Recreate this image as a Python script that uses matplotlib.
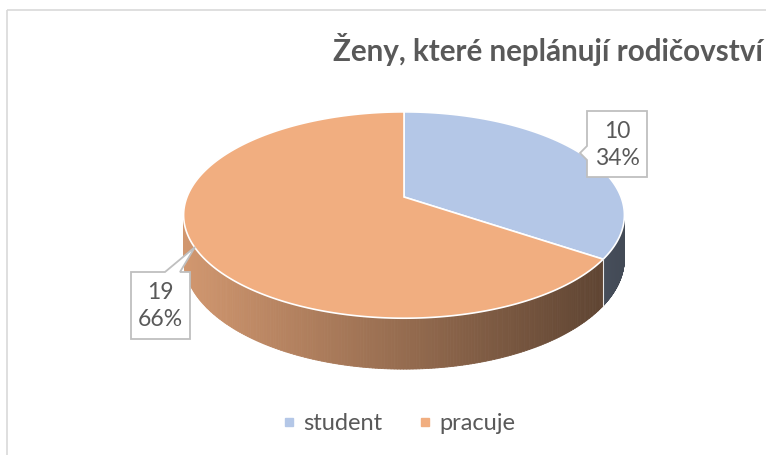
import numpy as np
import matplotlib.pyplot as plt
from matplotlib.patches import Polygon, Rectangle
from matplotlib.collections import PolyCollection
from matplotlib.lines import Line2D
from matplotlib.colors import to_rgb

# data
labels = ['student', 'pracuje']
values = [10, 19]
colors = ['#B4C7E7', '#F1AE80']
title = 'Ženy, které neplánují rodičovství'

fam = ['Lato', 'DejaVu Sans']
txt = '#595959'

fig = plt.figure(figsize=(7.66, 4.55), dpi=100)
ax = fig.add_axes([0, 0, 1, 1])
ax.set_xlim(0, 766)
ax.set_ylim(455, 0)
ax.axis('off')

# ramecek grafu
ax.add_patch(Rectangle((7, 10), 780, 460, fill=False, edgecolor='#D9D9D9', lw=1.2))

# geometrie kolace (pixely), jednoducha perspektiva
cx, cy0, a, b = 404, 197, 217, 100
k = 0.175          # sila perspektivy
d0 = 42            # vyska valce


def pt(th, dy=0.0):
    r = np.radians(th)
    s = 1.0 / (1.0 + k * np.sin(r))
    return cx + a * np.cos(r) * s, cy0 - b * np.sin(r) * s + dy * s


total = sum(values)
angles = [90]
for v in values:
    angles.append(angles[-1] - 360 * v / total)

# viditelna cast boku (mezi obrysovymi body)
edge = np.degrees(np.arcsin(k))
vis_lo, vis_hi = -180 + edge, -edge
xmin, xmax = pt(-180 + edge)[0], pt(-edge)[0]

for i, col in enumerate(colors):
    t1, t2 = angles[i + 1], angles[i]
    lo, hi = max(t1, vis_lo), min(t2, vis_hi)
    if lo >= hi:
        continue
    th = np.linspace(lo, hi, 200)
    base = np.array(to_rgb(col))
    quads, fcs = [], []
    for j in range(len(th) - 1):
        x1, y1 = pt(th[j])
        x2, y2 = pt(th[j + 1])
        _, yb1 = pt(th[j], d0)
        _, yb2 = pt(th[j + 1], d0)
        quads.append([(x1, y1), (x2, y2), (x2, yb2), (x1, yb1)])
        f = 0.87 - 0.50 * ((x1 + x2) / 2 - xmin) / (xmax - xmin)
        fcs.append(np.clip(base * f, 0, 1))
    ax.add_collection(PolyCollection(quads, facecolors=fcs, edgecolors=fcs,
                                     linewidths=0.6, antialiased=True))

# hrana mezi vysecemi na boku
for th in angles:
    th_n = ((th + 180) % 360) - 180
    if vis_lo < th_n < vis_hi:
        x, y = pt(th_n)
        _, yb = pt(th_n, d0)
        ax.plot([x, x], [y, yb], color='#E8E8E8', lw=0.8)

# horni plocha
for i, col in enumerate(colors):
    th = np.linspace(angles[i], angles[i + 1], 300)
    pts = [(cx, cy0)] + [pt(t) for t in th]
    ax.add_patch(Polygon(pts, closed=True, facecolor=col, edgecolor='white', lw=1.2))

# popisky (callouty)
box_edge = '#BFBFBF'
call1 = [(587, 111), (647, 111), (647, 177), (587, 177), (587, 160), (580, 153), (587, 146)]
call2 = [(131, 272), (165, 272), (195, 247), (180, 272), (190, 272), (190, 339), (131, 339)]
for poly in [call1, call2]:
    ax.add_patch(Polygon(poly, closed=True, facecolor='white', edgecolor=box_edge,
                         lw=1.3, joinstyle='miter'))

pos = [(617, 145), (160, 306)]
for (x, y), v in zip(pos, values):
    ax.text(x, y, f'{v}\n{round(100 * v / total)}%', ha='center', va='center',
            fontsize=16.5, color=txt, family=fam, linespacing=1.3)

ax.text(763, 49, title, ha='right', va='center', fontsize=21.3, fontweight='bold',
        color=txt, family=fam)

handles = [Line2D([], [], marker='s', ls='', markersize=5.5, color=c) for c in colors]
leg = fig.legend(handles, labels, loc='center', ncol=2, frameon=False,
                 bbox_to_anchor=(395 / 766, 1 - 424 / 455), handletextpad=0.0,
                 handlelength=1.2, columnspacing=1.2, prop={'family': fam, 'size': 17})
for t in leg.get_texts():
    t.set_color(txt)

plt.savefig('out.png', dpi=100)
